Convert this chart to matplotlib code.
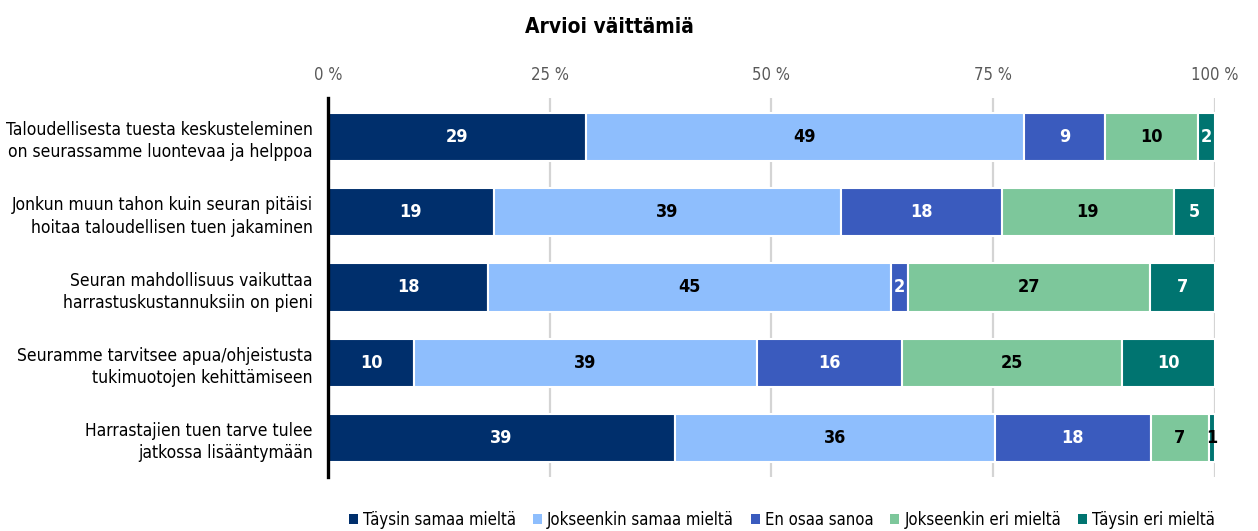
import matplotlib
matplotlib.use("Agg")
import matplotlib.pyplot as plt
from matplotlib import font_manager as fm
from matplotlib.patches import Patch
import numpy as np

categories = [
    "Taloudellisesta tuesta keskusteleminen\non seurassamme luontevaa ja helppoa",
    "Jonkun muun tahon kuin seuran pitäisi\nhoitaa taloudellisen tuen jakaminen",
    "Seuran mahdollisuus vaikuttaa\nharrastuskustannuksiin on pieni",
    "Seuramme tarvitsee apua/ohjeistusta\ntukimuotojen kehittämiseen",
    "Harrastajien tuen tarve tulee\njatkossa lisääntymään",
]
series_names = ["Täysin samaa mieltä", "Jokseenkin samaa mieltä", "En osaa sanoa",
                "Jokseenkin eri mieltä", "Täysin eri mieltä"]
taysin_samaa = [29.1, 18.7, 18.1, 9.7, 39.1]
jokseenkin_samaa = [49.4, 39.2, 45.4, 38.7, 36.1]
en_osaa = [9.2, 18.1, 1.9, 16.3, 17.6]
jokseenkin_eri = [10.4, 19.4, 27.3, 24.9, 6.6]
taysin_eri = [1.9, 4.6, 7.3, 10.4, 0.6]
x_ticks = [0, 25, 50, 75, 100]
x_ticklabels = ["0 %", "25 %", "50 %", "75 %", "100 %"]
title = "Arvioi väittämiä"

colors = ["#002f6c", "#8ebefd", "#3a5bbe", "#7dc79b", "#007470"]
text_colors = ["white", "black", "white", "black", "white"]

# pick a condensed font if available
family = "DejaVu Sans"
stretch = "normal"
for cand, st in [("Liberation Sans Narrow", "normal"), ("DejaVu Sans", "condensed")]:
    try:
        p = fm.findfont(fm.FontProperties(family=cand, stretch=st), fallback_to_default=False)
        if cand == "DejaVu Sans" and "Condensed" not in p:
            continue
        family, stretch = cand, st
        break
    except Exception:
        pass
plt.rcParams["font.family"] = [family, "DejaVu Sans"]
plt.rcParams["font.stretch"] = stretch

data = [taysin_samaa, jokseenkin_samaa, en_osaa, jokseenkin_eri, taysin_eri]

fig = plt.figure(figsize=(12.58, 5.31), dpi=100)
ax = fig.add_axes([328 / 1258, 1 - 477 / 531, (1214.5 - 328) / 1258, (477 - 98) / 531])

y = np.arange(len(categories))
left = np.zeros(len(categories))
for i, (vals, name) in enumerate(zip(data, series_names)):
    vals = np.array(vals)
    ax.barh(y, vals, left=left, height=0.64, color=colors[i], edgecolor="white",
            linewidth=1.5, label=name, zorder=3)
    for j, v in enumerate(vals):
        tc = text_colors[i] if v >= 1.0 else "black"
        ax.text(left[j] + v / 2, y[j], f"{v:.0f}", ha="center", va="center",
                color=tc, fontsize=13, fontweight="bold", zorder=4)
    left += vals

ax.set_xlim(0, 100)
ax.set_ylim(4.52, -0.52)
ax.set_yticks(y)
ax.set_yticklabels(categories, fontsize=12.5, linespacing=1.3)
ax.set_xticks(x_ticks)
ax.set_xticklabels(x_ticklabels, fontsize=12, color="#595959")
ax.xaxis.tick_top()
ax.tick_params(axis="x", length=0, pad=10)
ax.tick_params(axis="y", length=0, pad=11)
for s in ["top", "right", "bottom"]:
    ax.spines[s].set_visible(False)
ax.spines["left"].set_linewidth(2.4)
ax.spines["left"].set_color("black")
ax.spines["left"].set_zorder(5)
for xt in x_ticks[1:]:
    ax.axvline(xt, color="#d4d4d4", linewidth=1.6, zorder=1)

fig.text(609 / 1258, 1 - 27 / 531, title, ha="center", va="center",
         fontsize=15, fontweight="bold")

handles = [Patch(facecolor=c, edgecolor="none") for c in colors]
fig.legend(handles, series_names, loc="center", ncol=5,
           bbox_to_anchor=(782 / 1258, 1 - 520 / 531), frameon=False,
           fontsize=12, handlelength=0.55, handleheight=0.55,
           handletextpad=0.3, columnspacing=1.0, borderpad=0)

fig.savefig("out.png", dpi=100)
